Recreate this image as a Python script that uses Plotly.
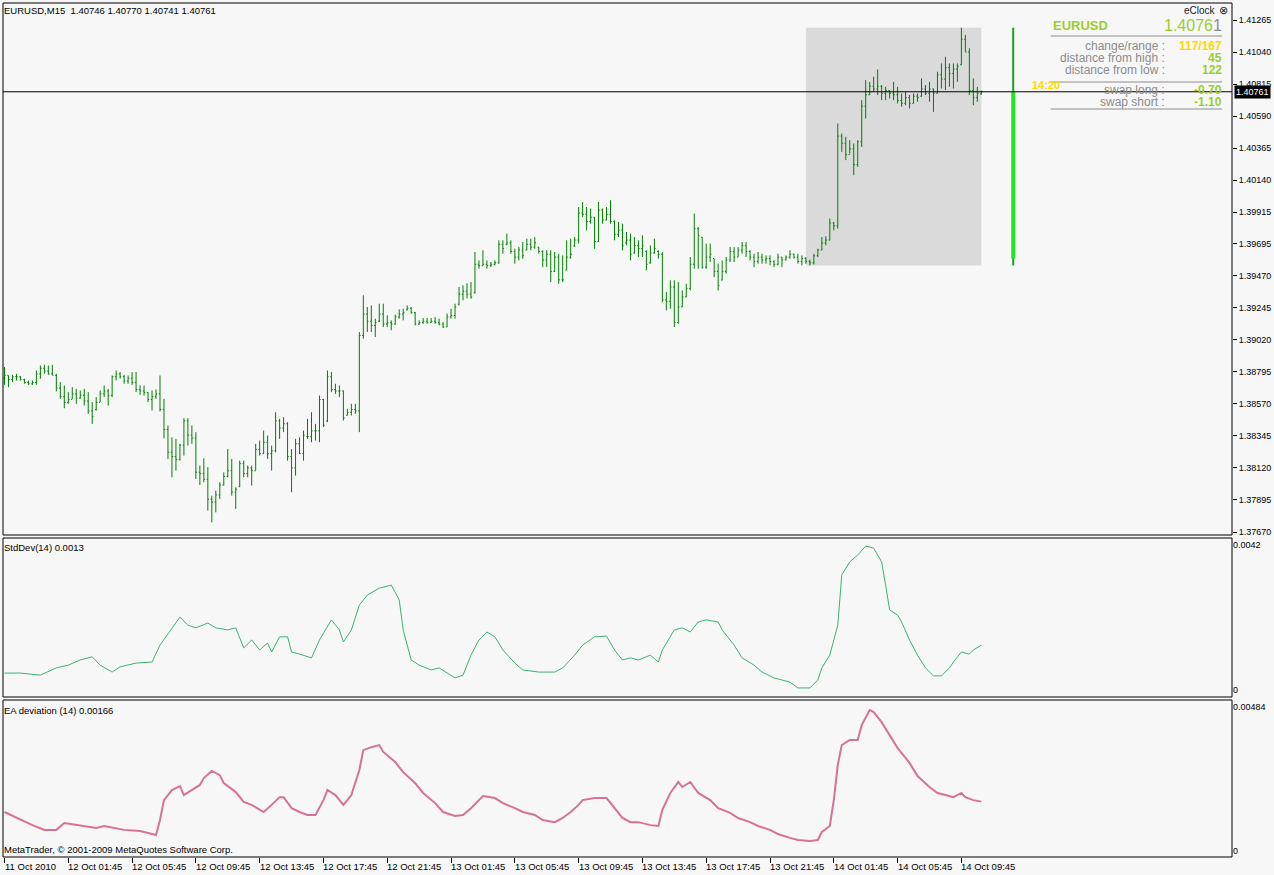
import plotly.graph_objects as go

# ---------------- data ----------------
highs = [
    1.38828, 1.38769, 1.38774, 1.38781, 1.38764, 1.38746, 1.38734, 1.38734, 1.38804, 1.38839,
    1.38844, 1.38839, 1.38844, 1.38781, 1.38722, 1.38699, 1.38652, 1.38687, 1.38675, 1.38664,
    1.38675, 1.38652, 1.38582, 1.38617, 1.38664, 1.38699, 1.38675, 1.38769, 1.38804, 1.38793,
    1.38774, 1.38769, 1.38793, 1.38793, 1.38699, 1.38699, 1.38652, 1.38664, 1.38671, 1.38769,
    1.38605, 1.38418, 1.38335, 1.38324, 1.38289, 1.38469, 1.38469, 1.38418, 1.38371, 1.38136,
    1.38188, 1.38125, 1.37925, 1.37960, 1.38019, 1.38089, 1.38253, 1.38183, 1.37984, 1.38171,
    1.38171, 1.38136, 1.38136, 1.38289, 1.38312, 1.38382, 1.38347, 1.38277, 1.38511, 1.38464,
    1.38476, 1.38441, 1.38253, 1.38324, 1.38335, 1.38382, 1.38464, 1.38511, 1.38429, 1.38628,
    1.38605, 1.38804, 1.38793, 1.38711, 1.38699, 1.38664, 1.38535, 1.38570, 1.38570, 1.39074,
    1.39332, 1.39250, 1.39261, 1.39168, 1.39273, 1.39273, 1.39191, 1.39156, 1.39196, 1.39233,
    1.39238, 1.39261, 1.39250, 1.39215, 1.39156, 1.39172, 1.39172, 1.39172, 1.39179, 1.39168,
    1.39144, 1.39203, 1.39238, 1.39273, 1.39390, 1.39402, 1.39416, 1.39425, 1.39636, 1.39577,
    1.39648, 1.39577, 1.39566, 1.39577, 1.39718, 1.39718, 1.39765, 1.39718, 1.39659, 1.39671,
    1.39706, 1.39730, 1.39730, 1.39741, 1.39671, 1.39648, 1.39648, 1.39648, 1.39636, 1.39624,
    1.39612, 1.39718, 1.39730, 1.39741, 1.39952, 1.39987, 1.39952, 1.39941, 1.39882, 1.39987,
    1.39941, 1.39952, 1.39999, 1.39859, 1.39847, 1.39835, 1.39777, 1.39765, 1.39741, 1.39718,
    1.39753, 1.39648, 1.39683, 1.39730, 1.39648, 1.39636, 1.39355, 1.39437, 1.39437, 1.39425,
    1.39366, 1.39413, 1.39601, 1.39905, 1.39812, 1.39741, 1.39695, 1.39695, 1.39589, 1.39554,
    1.39577, 1.39601, 1.39671, 1.39671, 1.39671, 1.39706, 1.39706, 1.39648, 1.39624, 1.39636,
    1.39624, 1.39612, 1.39612, 1.39577, 1.39624, 1.39601, 1.39612, 1.39648, 1.39624, 1.39624,
    1.39612, 1.39600, 1.39582, 1.39624, 1.39659, 1.39741, 1.39746, 1.39870, 1.39847, 1.40538,
    1.40468, 1.40445, 1.40421, 1.40398, 1.40421, 1.40702, 1.40843, 1.40831, 1.40867, 1.40918,
    1.40808, 1.40796, 1.40773, 1.40831, 1.40796, 1.40749, 1.40761, 1.40738, 1.40749, 1.40749,
    1.40855, 1.40808, 1.40831, 1.40784, 1.40902, 1.40960, 1.41007, 1.40960, 1.40960, 1.40960,
    1.41211, 1.41160, 1.41066, 1.40855, 1.40796, 1.40770,
]
lows = [
    1.38703, 1.38687, 1.38722, 1.38734, 1.38734, 1.38711, 1.38703, 1.38703, 1.38703, 1.38746,
    1.38781, 1.38774, 1.38774, 1.38657, 1.38605, 1.38539, 1.38570, 1.38605, 1.38570, 1.38605,
    1.38558, 1.38500, 1.38429, 1.38523, 1.38582, 1.38617, 1.38558, 1.38617, 1.38734, 1.38746,
    1.38711, 1.38711, 1.38703, 1.38652, 1.38633, 1.38628, 1.38582, 1.38523, 1.38605, 1.38516,
    1.38328, 1.38183, 1.38054, 1.38101, 1.38171, 1.38207, 1.38277, 1.38289, 1.38042, 1.38000,
    1.38019, 1.37820, 1.37738, 1.37808, 1.37902, 1.37996, 1.38054, 1.37925, 1.37832, 1.37984,
    1.38054, 1.38054, 1.37996, 1.38101, 1.38207, 1.38218, 1.38183, 1.38101, 1.38230, 1.38324,
    1.38371, 1.38171, 1.37949, 1.38066, 1.38218, 1.38171, 1.38324, 1.38300, 1.38312, 1.38300,
    1.38406, 1.38441, 1.38652, 1.38640, 1.38617, 1.38453, 1.38488, 1.38488, 1.38500, 1.38371,
    1.39027, 1.39074, 1.39074, 1.39039, 1.39144, 1.39109, 1.39109, 1.39086, 1.39125, 1.39168,
    1.39156, 1.39226, 1.39203, 1.39121, 1.39125, 1.39132, 1.39132, 1.39139, 1.39132, 1.39121,
    1.39102, 1.39109, 1.39168, 1.39168, 1.39261, 1.39297, 1.39310, 1.39308, 1.39343, 1.39519,
    1.39542, 1.39519, 1.39530, 1.39542, 1.39554, 1.39624, 1.39683, 1.39624, 1.39554, 1.39577,
    1.39589, 1.39648, 1.39648, 1.39659, 1.39624, 1.39530, 1.39530, 1.39425, 1.39495, 1.39413,
    1.39425, 1.39507, 1.39589, 1.39671, 1.39695, 1.39882, 1.39788, 1.39835, 1.39659, 1.39706,
    1.39835, 1.39859, 1.39835, 1.39718, 1.39741, 1.39648, 1.39683, 1.39577, 1.39624, 1.39601,
    1.39601, 1.39507, 1.39554, 1.39624, 1.39589, 1.39284, 1.39226, 1.39237, 1.39109, 1.39132,
    1.39249, 1.39320, 1.39366, 1.39519, 1.39519, 1.39519, 1.39519, 1.39566, 1.39460, 1.39366,
    1.39437, 1.39484, 1.39566, 1.39566, 1.39601, 1.39624, 1.39601, 1.39577, 1.39530, 1.39554,
    1.39554, 1.39554, 1.39542, 1.39530, 1.39542, 1.39530, 1.39577, 1.39589, 1.39589, 1.39554,
    1.39542, 1.39554, 1.39541, 1.39548, 1.39601, 1.39648, 1.39683, 1.39718, 1.39788, 1.39800,
    1.40339, 1.40281, 1.40327, 1.40175, 1.40234, 1.40374, 1.40573, 1.40738, 1.40761, 1.40738,
    1.40702, 1.40702, 1.40714, 1.40702, 1.40679, 1.40656, 1.40667, 1.40644, 1.40679, 1.40691,
    1.40726, 1.40738, 1.40691, 1.40620, 1.40749, 1.40784, 1.40773, 1.40796, 1.40784, 1.40831,
    1.40949, 1.41042, 1.40738, 1.40667, 1.40691, 1.40741,
]
closes = [
    1.3877, 1.3874, 1.3876, 1.3876, 1.3874, 1.3872, 1.3871, 1.3872, 1.3878, 1.3882,
    1.3880, 1.3878, 1.3877, 1.3868, 1.3862, 1.3858, 1.3860, 1.3864, 1.3861, 1.3863,
    1.3859, 1.3852, 1.3848, 1.3858, 1.3864, 1.3866, 1.3863, 1.3876, 1.3878, 1.3876,
    1.3873, 1.3875, 1.3872, 1.3867, 1.3866, 1.3865, 1.3860, 1.3862, 1.3864, 1.3853,
    1.3839, 1.3823, 1.3820, 1.3818, 1.3828, 1.3845, 1.3835, 1.3833, 1.3809, 1.3808,
    1.3804, 1.3790, 1.3788, 1.3793, 1.3800, 1.3806, 1.3810, 1.3795, 1.3797, 1.3815,
    1.3808, 1.3812, 1.3810, 1.3825, 1.3822, 1.3830, 1.3822, 1.3824, 1.3845, 1.3840,
    1.3843, 1.3820, 1.3812, 1.3829, 1.3822, 1.3835, 1.3834, 1.3838, 1.3838, 1.3860,
    1.3842, 1.3876, 1.3867, 1.3866, 1.3866, 1.3847, 1.3851, 1.3853, 1.3852, 1.3905,
    1.3920, 1.3915, 1.3912, 1.3914, 1.3920, 1.3913, 1.3914, 1.3913, 1.3918, 1.3920,
    1.3921, 1.3924, 1.3921, 1.3913, 1.3914, 1.3915, 1.3914, 1.3915, 1.3914, 1.3913,
    1.3911, 1.3918, 1.3919, 1.3925, 1.3934, 1.3936, 1.3934, 1.3932, 1.3955, 1.3954,
    1.3955, 1.3954, 1.3955, 1.3956, 1.3969, 1.3966, 1.3970, 1.3964, 1.3960, 1.3965,
    1.3961, 1.3969, 1.3967, 1.3970, 1.3964, 1.3958, 1.3962, 1.3950, 1.3960, 1.3944,
    1.3944, 1.3960, 1.3962, 1.3972, 1.3991, 1.3990, 1.3985, 1.3988, 1.3971, 1.3993,
    1.3986, 1.3990, 1.3985, 1.3976, 1.3979, 1.3968, 1.3972, 1.3962, 1.3968, 1.3966,
    1.3968, 1.3955, 1.3963, 1.3966, 1.3962, 1.3930, 1.3929, 1.3939, 1.3914, 1.3925,
    1.3932, 1.3938, 1.3955, 1.3980, 1.3975, 1.3953, 1.3960, 1.3962, 1.3950, 1.3940,
    1.3950, 1.3958, 1.3964, 1.3960, 1.3965, 1.3968, 1.3964, 1.3960, 1.3957, 1.3960,
    1.3958, 1.3959, 1.3957, 1.3955, 1.3960, 1.3958, 1.3960, 1.3962, 1.3960, 1.3957,
    1.3959, 1.3957, 1.3956, 1.3961, 1.3965, 1.3970, 1.3972, 1.3984, 1.3982, 1.4045,
    1.4040, 1.4032, 1.4036, 1.4025, 1.4041, 1.4066, 1.4074, 1.4080, 1.4078, 1.4080,
    1.4075, 1.4077, 1.4075, 1.4074, 1.4070, 1.4068, 1.4072, 1.4068, 1.4073, 1.4072,
    1.4078, 1.4075, 1.4078, 1.4075, 1.4088, 1.4085, 1.4093, 1.4089, 1.4092, 1.4094,
    1.4113, 1.4104, 1.4077, 1.4072, 1.4075, 1.40761,
]
opens = [
    1.3875, 1.3877, 1.3874, 1.3876, 1.3876, 1.3874, 1.3872, 1.3871, 1.3872, 1.3878,
    1.3882, 1.3880, 1.3878, 1.3877, 1.3868, 1.3862, 1.3858, 1.3860, 1.3864, 1.3861,
    1.3863, 1.3859, 1.3852, 1.3853, 1.3858, 1.3864, 1.3866, 1.3863, 1.3876, 1.3878,
    1.3876, 1.3873, 1.3875, 1.3872, 1.3867, 1.3866, 1.3865, 1.3860, 1.3862, 1.3864,
    1.3853, 1.3839, 1.3823, 1.3820, 1.3818, 1.3828, 1.3845, 1.3835, 1.3833, 1.3809,
    1.3808, 1.3804, 1.3790, 1.3788, 1.3793, 1.3800, 1.3806, 1.3810, 1.3795, 1.3799,
    1.3815, 1.3808, 1.3812, 1.3810, 1.3825, 1.3822, 1.3830, 1.3822, 1.3824, 1.3845,
    1.3840, 1.3843, 1.3820, 1.3812, 1.3829, 1.3822, 1.3834, 1.3834, 1.3838, 1.3838,
    1.3860, 1.3845, 1.3876, 1.3867, 1.3866, 1.3866, 1.3849, 1.3851, 1.3853, 1.3852,
    1.3905, 1.3920, 1.3915, 1.3912, 1.3915, 1.3920, 1.3913, 1.3914, 1.3913, 1.3918,
    1.3920, 1.3923, 1.3924, 1.3921, 1.3913, 1.3914, 1.3915, 1.3914, 1.3915, 1.3914,
    1.3913, 1.3911, 1.3918, 1.3919, 1.3927, 1.3934, 1.3936, 1.3934, 1.3935, 1.3955,
    1.3954, 1.3955, 1.3954, 1.3955, 1.3956, 1.3969, 1.3969, 1.3970, 1.3964, 1.3960,
    1.3965, 1.3965, 1.3969, 1.3967, 1.3967, 1.3964, 1.3958, 1.3962, 1.3950, 1.3960,
    1.3944, 1.3951, 1.3960, 1.3968, 1.3972, 1.3991, 1.3990, 1.3985, 1.3988, 1.3971,
    1.3993, 1.3986, 1.3990, 1.3985, 1.3976, 1.3979, 1.3970, 1.3972, 1.3963, 1.3968,
    1.3966, 1.3964, 1.3956, 1.3963, 1.3964, 1.3962, 1.3930, 1.3929, 1.3939, 1.3914,
    1.3925, 1.3932, 1.3938, 1.3955, 1.3980, 1.3974, 1.3953, 1.3960, 1.3959, 1.3950,
    1.3944, 1.3950, 1.3958, 1.3964, 1.3960, 1.3965, 1.3968, 1.3964, 1.3960, 1.3957,
    1.3960, 1.3958, 1.3959, 1.3957, 1.3955, 1.3960, 1.3958, 1.3960, 1.3962, 1.3960,
    1.3957, 1.39591, 1.3957, 1.3956, 1.3961, 1.3965, 1.3970, 1.3972, 1.3984, 1.3982,
    1.4045, 1.4040, 1.4032, 1.4036, 1.4025, 1.4041, 1.4066, 1.4074, 1.4080, 1.4078,
    1.4080, 1.4075, 1.4077, 1.4075, 1.4074, 1.4070, 1.4068, 1.4072, 1.4068, 1.4073,
    1.4073, 1.4078, 1.4075, 1.4078, 1.4075, 1.4088, 1.4085, 1.4093, 1.4089, 1.4092,
    1.4095, 1.4113, 1.4104, 1.4077, 1.4072, 1.40746,
]
assert len(highs) == len(lows) == len(closes) == len(opens) == 246
bars = list(range(len(closes)))

# StdDev(14) readings (bar index, value)
std_bar = [0, 4, 9, 13, 16, 19, 22, 24, 27, 29, 33, 37, 39, 42, 44, 46, 48, 51, 53, 56,
           58, 60, 62, 64, 66, 67, 69, 71, 72, 74, 77, 79, 82, 84, 85, 87, 89, 91, 94, 97,
           99, 100, 102, 104, 107, 109, 112, 113, 115, 117, 119, 121, 123, 125, 128, 130,
           134, 138, 140, 143, 145, 148, 151, 153, 155, 157, 159, 162, 164, 165, 168, 170,
           172, 174, 176, 179, 180, 183, 185, 188, 190, 193, 195, 197, 199, 202, 204, 205,
           207, 209, 210, 212, 214, 216, 218, 220, 221, 222, 224, 225, 227, 229, 231, 233,
           235, 237, 238, 240, 242, 243, 245]
std_val = [0.00049, 0.00049, 0.00043, 0.00064, 0.00072, 0.00087, 0.00096, 0.00072, 0.00052,
           0.00067, 0.00078, 0.00081, 0.00130, 0.00180, 0.00211, 0.00188, 0.00180, 0.00194,
           0.00180, 0.00174, 0.00180, 0.00122, 0.00145, 0.00116, 0.00136, 0.00110, 0.00154,
           0.00154, 0.00110, 0.00104, 0.00093, 0.00145, 0.00203, 0.00174, 0.00139, 0.00174,
           0.00246, 0.00275, 0.00295, 0.00304, 0.00261, 0.00174, 0.00087, 0.00072, 0.00058,
           0.00064, 0.00043, 0.00035, 0.00043, 0.00101, 0.00145, 0.00168, 0.00154, 0.00116,
           0.00078, 0.00058, 0.00052, 0.00052, 0.00064, 0.00101, 0.00130, 0.00154, 0.00156,
           0.00116, 0.00087, 0.00093, 0.00087, 0.00101, 0.00081, 0.00116, 0.00174, 0.00180,
           0.00168, 0.00197, 0.00203, 0.00197, 0.00174, 0.00130, 0.00093, 0.00072, 0.00052,
           0.00035, 0.00029, 0.00023, 0.00006, 0.00006, 0.00029, 0.00064, 0.00101, 0.00188,
           0.00333, 0.00371, 0.00391, 0.00417, 0.00411, 0.00371, 0.00304, 0.00232, 0.00217,
           0.00197, 0.00145, 0.00101, 0.00064, 0.00041, 0.00041, 0.00064, 0.00081, 0.00110,
           0.00104, 0.00116, 0.00130]

# EA deviation (14) readings (bar index, value)
ead_bar = [0, 3, 7, 10, 13, 15, 18, 20, 23, 25, 28, 30, 34, 38, 39, 40, 42, 44, 45, 47,
           49, 50, 52, 54, 55, 58, 60, 62, 64, 65, 67, 69, 70, 72, 74, 76, 78, 80, 81, 83,
           85, 87, 89, 90, 92, 94, 95, 98, 100, 103, 105, 108, 110, 113, 115, 117, 119, 120,
           123, 125, 128, 130, 133, 135, 138, 140, 142, 144, 145, 148, 151, 153, 155, 157,
           159, 162, 164, 165, 167, 169, 170, 172, 174, 177, 179, 182, 184, 187, 189, 192,
           194, 197, 199, 202, 204, 205, 207, 208, 209, 210, 212, 214, 215, 217, 218, 220,
           222, 224, 227, 229, 232, 234, 236, 238, 240, 241, 243, 245]
ead_val = [0.00131, 0.00111, 0.00087, 0.00071, 0.00071, 0.00094, 0.00087, 0.00084, 0.00077,
           0.00084, 0.00077, 0.00071, 0.00067, 0.00054, 0.00104, 0.00171, 0.00205, 0.00218,
           0.00188, 0.00205, 0.00222, 0.00245, 0.00269, 0.00255, 0.00228, 0.00198, 0.00165,
           0.00155, 0.00138, 0.00131, 0.00155, 0.00181, 0.00181, 0.00144, 0.00131, 0.00121,
           0.00121, 0.00171, 0.00205, 0.00188, 0.00155, 0.00188, 0.00272, 0.00339, 0.00349,
           0.00356, 0.00333, 0.00299, 0.00265, 0.00228, 0.00195, 0.00161, 0.00131, 0.00118,
           0.00121, 0.00144, 0.00171, 0.00185, 0.00178, 0.00161, 0.00144, 0.00131, 0.00121,
           0.00104, 0.00097, 0.00111, 0.00131, 0.00155, 0.00171, 0.00178, 0.00178, 0.00144,
           0.00111, 0.00097, 0.00097, 0.00087, 0.00084, 0.00138, 0.00195, 0.00232, 0.00215,
           0.00232, 0.00195, 0.00171, 0.00144, 0.00128, 0.00111, 0.00097, 0.00084, 0.00071,
           0.00057, 0.00044, 0.00037, 0.00034, 0.00037, 0.00064, 0.00084, 0.00171, 0.00289,
           0.00356, 0.00373, 0.00373, 0.00423, 0.00474, 0.00467, 0.00433, 0.00390, 0.00346,
           0.00296, 0.00252, 0.00215, 0.00195, 0.00188, 0.00181, 0.00195, 0.00181, 0.00171,
           0.00166]

xtick_bars = [0, 16, 32, 48, 64, 80, 96, 112, 128, 144, 160, 176, 192, 208, 224, 240]
xtick_text = ["11 Oct 2010", "12 Oct 01:45", "12 Oct 05:45", "12 Oct 09:45", "12 Oct 13:45",
              "12 Oct 17:45", "12 Oct 21:45", "13 Oct 01:45", "13 Oct 05:45", "13 Oct 09:45",
              "13 Oct 13:45", "13 Oct 17:45", "13 Oct 21:45", "14 Oct 01:45", "14 Oct 05:45",
              "14 Oct 09:45"]
price_ticks = [1.41265, 1.41040, 1.40815, 1.40590, 1.40365, 1.40140, 1.39915, 1.39695, 1.39470,
               1.39245, 1.39020, 1.38795, 1.38570, 1.38345, 1.38120, 1.37895, 1.37670]
std_ticks = [0, 0.0042]
ead_ticks = [0, 0.00484]

symbol = "EURUSD"
timeframe = "M15"
cur_bar = (1.40746, 1.40770, 1.40741, 1.40761)
day_open, day_high, day_low, day_close = 1.39591, 1.41211, 1.39541, 1.40761
day_start_bar = 201
day_bar_x = 253
std_last, ead_last = "0.0013", "0.00166"
info_rows = [("change/range :", "117/167", "#FFD700"),
             ("distance from high :", "45", "#9ACD32"),
             ("distance from low :", "122", "#9ACD32"),
             ("swap long :", "-0.70", "#9ACD32"),
             ("swap short :", "-1.10", "#9ACD32")]
clock_text = "14:20"

# ---------------- layout helpers ----------------
W, H = 1274, 875
ML, MR, MT, MB = 3, 38, 3, 18
PW, PH = W - ML - MR, H - MT - MB
FONT = "Liberation Sans, Arial, sans-serif"
BG = "#F7F7F7"
BAR_GREEN = "#008000"
X0 = -0.375  # left edge of the plot area, in bar units


def px(x):
    return (x - ML) / PW


def py(y):
    return (H - MB - y) / PH


fig = go.Figure()

fig.add_trace(go.Ohlc(
    x=bars, open=opens, high=highs, low=lows, close=closes,
    xaxis="x", yaxis="y",
    increasing=dict(line=dict(color=BAR_GREEN, width=1)),
    decreasing=dict(line=dict(color=BAR_GREEN, width=1)),
    tickwidth=0.3, showlegend=False, hoverinfo="skip",
))
# daily bar drawn by the eClock indicator
fig.add_trace(go.Scatter(x=[day_bar_x, day_bar_x], y=[day_low, day_high], mode="lines",
                         line=dict(color="#1E9E1E", width=2), yaxis="y",
                         showlegend=False, hoverinfo="skip"))
fig.add_trace(go.Scatter(x=[day_bar_x, day_bar_x], y=[day_open, day_close], mode="lines",
                         line=dict(color="#22E622", width=4), yaxis="y",
                         showlegend=False, hoverinfo="skip"))
fig.add_trace(go.Scatter(x=std_bar, y=std_val, mode="lines", yaxis="y2",
                         line=dict(color="#3CB371", width=1), showlegend=False,
                         hoverinfo="skip"))
fig.add_trace(go.Scatter(x=ead_bar, y=ead_val, mode="lines", yaxis="y3",
                         line=dict(color="#D9709A", width=2), showlegend=False,
                         hoverinfo="skip"))

# pixel -> value scales of each pane (pane edges in pixels)
main_top, main_bot = 3, 535
p1_top, p1_bot = 538, 697
p2_top, p2_bot = 700, 857
price_per_px = (1.41265 - 1.37670) / (532 - 20)
y_main = [1.37670 - (main_bot - 532) * price_per_px, 1.41265 + (20 - main_top) * price_per_px]
s1 = 0.0042 / (690 - 545)
y_p1 = [-(p1_bot - 690) * s1, 0.0042 + (545 - p1_top) * s1]
s2 = 0.00484 / (851 - 707)
y_p2 = [-(p2_bot - 851) * s2, 0.00484 + (707 - p2_top) * s2]

tickfont = dict(family=FONT, size=9, color="black")
fig.update_layout(
    width=W, height=H,
    margin=dict(l=ML, r=MR, t=MT, b=MB),
    paper_bgcolor=BG, plot_bgcolor=BG,
    showlegend=False, hovermode=False,
    xaxis=dict(domain=[0, 1], range=[X0, X0 + PW / 4], anchor="y3",
               showgrid=False, zeroline=False, tickvals=xtick_bars, ticks="outside",
               ticklen=5, tickcolor="black", showticklabels=False,
               rangeslider=dict(visible=False), fixedrange=True),
    yaxis=dict(domain=[py(main_bot), py(main_top)], range=y_main, side="right", anchor="x",
               showgrid=False, zeroline=False, tickvals=price_ticks,
               ticktext=[f"{v:.5f}" for v in price_ticks], ticks="outside", ticklen=4,
               tickcolor="black", tickfont=tickfont, fixedrange=True),
    yaxis2=dict(domain=[py(p1_bot), py(p1_top)], range=y_p1, side="right", anchor="x",
                showgrid=False, zeroline=False, tickvals=std_ticks,
                ticktext=["0", "0.0042"], ticks="", tickfont=tickfont, fixedrange=True),
    yaxis3=dict(domain=[py(p2_bot), py(p2_top)], range=y_p2, side="right", anchor="x",
                showgrid=False, zeroline=False, tickvals=ead_ticks,
                ticktext=["0", "0.00484"], ticks="", tickfont=tickfont, fixedrange=True),
)

shapes = []
# today's range box
shapes.append(dict(type="rect", xref="x", yref="y", x0=day_start_bar, x1=bars[-1],
                   y0=day_low, y1=day_high, fillcolor="#DADADA", line=dict(width=0),
                   layer="below"))
# current price line
shapes.append(dict(type="line", xref="paper", yref="y", x0=0, x1=1, y0=day_close,
                   y1=day_close, line=dict(color="black", width=1)))
# pane frames
for yr in ["y domain", "y2 domain", "y3 domain"]:
    shapes.append(dict(type="rect", xref="paper", yref=yr, x0=0, x1=1, y0=0, y1=1,
                       line=dict(color="black", width=1), fillcolor="rgba(0,0,0,0)"))
# info panel separators
for yy in [36, 82, 109]:
    shapes.append(dict(type="line", xref="paper", yref="paper", x0=px(1054), x1=px(1226),
                       y0=py(yy), y1=py(yy), line=dict(color="#8C8C8C", width=1)))
fig.update_layout(shapes=shapes)

ann = []


def text(x, y, s, size=10, color="black", xanchor="left", bold=False):
    shift = {"left": -3, "right": 3, "center": 0}[xanchor]
    ann.append(dict(xref="paper", yref="paper", x=px(x), y=py(y),
                    text=(f"<b>{s}</b>" if bold else s), xshift=shift,
                    showarrow=False, xanchor=xanchor, yanchor="middle",
                    font=dict(family=FONT, size=size, color=color)))


o, h, l, c = cur_bar
text(5, 10, f"{symbol},{timeframe}  {o:.5f} {h:.5f} {l:.5f} {c:.5f}", size=9.5)
text(5, 548, f"StdDev(14) {std_last}", size=9.5)
text(5, 710, f"EA deviation (14) {ead_last}", size=9.5)
text(5, 849, "MetaTrader, © 2001-2009 MetaQuotes Software Corp.", size=9.5)

# x-axis labels (left-aligned at the tick like MetaTrader)
for b, t in zip(xtick_bars, xtick_text):
    ann.append(dict(xref="x", yref="paper", x=b, y=0, text=t, showarrow=False,
                    xanchor="left", yanchor="top", xshift=-2, yshift=-2,
                    font=dict(family=FONT, size=9.5, color="black")))

# current price label on the axis
ann.append(dict(xref="paper", yref="y", x=1, y=day_close, text=f"{day_close:.5f}",
                showarrow=False, xanchor="left", yanchor="middle", xshift=2,
                bgcolor="black", borderpad=1,
                font=dict(family=FONT, size=9, color="white")))

# eClock info panel
text(1219, 10, "eClock", size=10, color="#222222", xanchor="right")
text(1231, 10, "⊗", size=11, color="#222222", xanchor="right")
text(1057, 25, symbol, size=13, color="#9ACD32", bold=True)
price_s = f"{day_close:.5f}"
text(1225, 25, f"{price_s[:-1]}<span style='color:#8C8C8C'>{price_s[-1]}</span>",
     size=16, color="#9ACD32", xanchor="right")
row_y = [46, 58, 70, 90, 102]
for (lab, val, col), yy in zip(info_rows, row_y):
    text(1168, yy, lab, size=12, color="#8C8C8C", xanchor="right")
    text(1225, yy, val, size=12, color=col, xanchor="right", bold=True)
text(1049, 85, clock_text, size=11, color="#FFD700", xanchor="center", bold=True)

fig.update_layout(annotations=ann)
fig.write_html("out.html", config={"displayModeBar": False},
               post_script="document.body.style.margin='0';document.body.style.padding='0';"
                           "document.body.style.background='" + BG + "';")
